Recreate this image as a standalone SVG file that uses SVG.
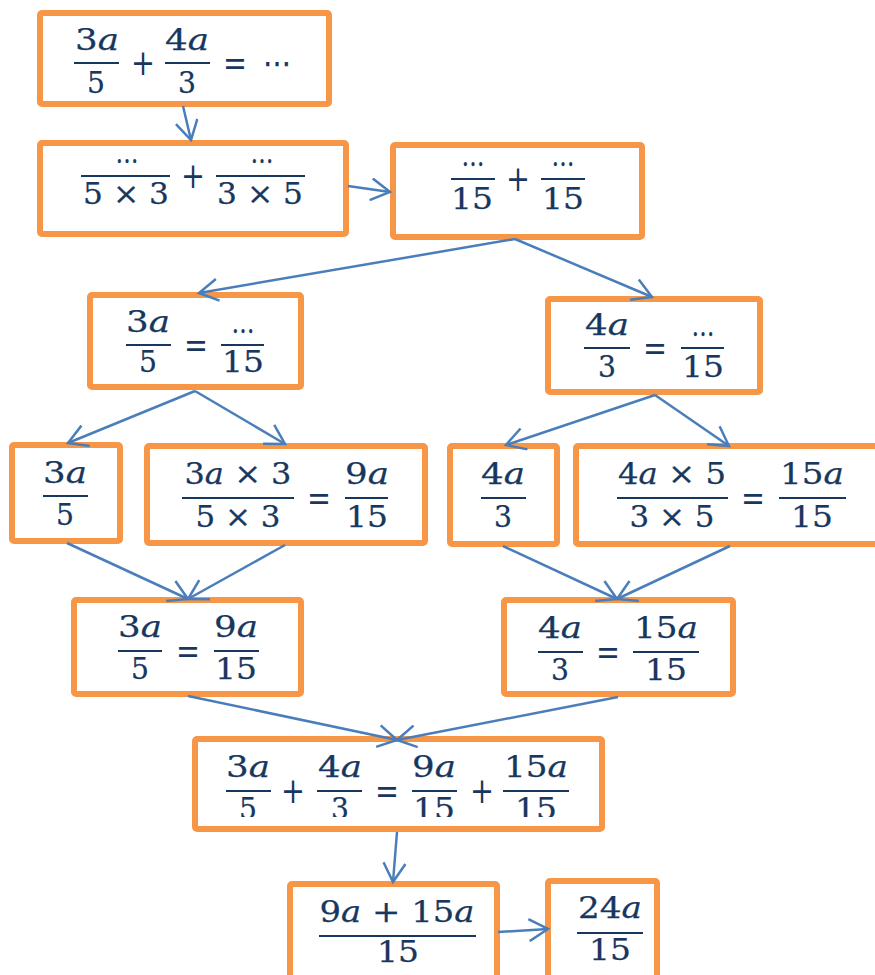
<svg xmlns="http://www.w3.org/2000/svg" width="875" height="975" viewBox="0 0 875 975">
<style>
.box{fill:#fff;stroke:#F79646;stroke-width:6}
.t{font-family:"DejaVu Serif","Liberation Serif",serif;font-size:30px;fill:#17375E;stroke:#17375E;stroke-width:0.25;text-anchor:middle}
.o{font-size:36px;stroke-width:0}
.bar{stroke:#17375E;stroke-width:2}
.c{stroke:#4A7EBB;stroke-width:2.5;fill:none;marker-end:url(#ah)}
.i{font-style:italic}
</style>
<defs>
<marker id="ah" markerUnits="userSpaceOnUse" markerWidth="24" markerHeight="24" refX="20" refY="12" orient="auto" viewBox="0 0 24 24">
<path d="M1,1 L20,12 L1,23" fill="none" stroke="#4A7EBB" stroke-width="2.5"/>
</marker>
<clipPath id="clip12"><rect x="195" y="739" width="407" height="78"/></clipPath>
</defs>
<rect width="875" height="975" fill="#fff"/>

<g id="n1">
<rect class="box" x="40" y="13" width="289" height="91" rx="2"/>
<line class="bar" x1="74" y1="63" x2="119" y2="63"/>
<text class="t" x="97" y="50" textLength="44" lengthAdjust="spacingAndGlyphs">3<tspan class="i">a</tspan></text>
<text class="t" x="96" y="93" textLength="18" lengthAdjust="spacingAndGlyphs">5</text>
<text class="t o" x="143" y="75" textLength="24" lengthAdjust="spacingAndGlyphs">+</text>
<line class="bar" x1="165" y1="63" x2="210" y2="63"/>
<text class="t" x="187" y="50" textLength="44" lengthAdjust="spacingAndGlyphs">4<tspan class="i">a</tspan></text>
<text class="t" x="187" y="93" textLength="18" lengthAdjust="spacingAndGlyphs">3</text>
<text class="t o" x="235" y="75" textLength="24" lengthAdjust="spacingAndGlyphs">=</text>
<text class="t" x="277" y="73" textLength="28" lengthAdjust="spacingAndGlyphs">⋯</text>
</g>

<g id="n2">
<rect class="box" x="40" y="143" width="306" height="91" rx="2"/>
<line class="bar" x1="81" y1="176" x2="170" y2="176"/>
<text class="t" x="127" y="163" textLength="23" lengthAdjust="spacingAndGlyphs">…</text>
<text class="t" x="126" y="204" textLength="86" lengthAdjust="spacingAndGlyphs">5 × 3</text>
<text class="t o" x="193" y="188" textLength="24" lengthAdjust="spacingAndGlyphs">+</text>
<line class="bar" x1="216" y1="176" x2="305" y2="176"/>
<text class="t" x="262" y="163" textLength="23" lengthAdjust="spacingAndGlyphs">…</text>
<text class="t" x="260" y="204" textLength="86" lengthAdjust="spacingAndGlyphs">3 × 5</text>
</g>

<g id="n3">
<rect class="box" x="393" y="145" width="249" height="92" rx="2"/>
<line class="bar" x1="451" y1="179" x2="495" y2="179"/>
<text class="t" x="473" y="166" textLength="23" lengthAdjust="spacingAndGlyphs">…</text>
<text class="t" x="472" y="209" textLength="42" lengthAdjust="spacingAndGlyphs">15</text>
<text class="t o" x="518" y="191" textLength="24" lengthAdjust="spacingAndGlyphs">+</text>
<line class="bar" x1="541" y1="179" x2="585" y2="179"/>
<text class="t" x="563" y="166" textLength="23" lengthAdjust="spacingAndGlyphs">…</text>
<text class="t" x="563" y="209" textLength="42" lengthAdjust="spacingAndGlyphs">15</text>
</g>

<g id="n4">
<rect class="box" x="90" y="295" width="211" height="92" rx="2"/>
<line class="bar" x1="126" y1="345" x2="171" y2="345"/>
<text class="t" x="148" y="332" textLength="44" lengthAdjust="spacingAndGlyphs">3<tspan class="i">a</tspan></text>
<text class="t" x="148" y="372" textLength="18" lengthAdjust="spacingAndGlyphs">5</text>
<text class="t o" x="196" y="357" textLength="24" lengthAdjust="spacingAndGlyphs">=</text>
<line class="bar" x1="221" y1="345" x2="264" y2="345"/>
<text class="t" x="243" y="333" textLength="23" lengthAdjust="spacingAndGlyphs">…</text>
<text class="t" x="243" y="372" textLength="42" lengthAdjust="spacingAndGlyphs">15</text>
</g>

<g id="n5">
<rect class="box" x="548" y="299" width="212" height="93" rx="2"/>
<line class="bar" x1="584" y1="348" x2="630" y2="348"/>
<text class="t" x="607" y="335" textLength="44" lengthAdjust="spacingAndGlyphs">4<tspan class="i">a</tspan></text>
<text class="t" x="607" y="377" textLength="18" lengthAdjust="spacingAndGlyphs">3</text>
<text class="t o" x="655" y="360" textLength="24" lengthAdjust="spacingAndGlyphs">=</text>
<line class="bar" x1="681" y1="348" x2="724" y2="348"/>
<text class="t" x="703" y="336" textLength="23" lengthAdjust="spacingAndGlyphs">…</text>
<text class="t" x="703" y="377" textLength="42" lengthAdjust="spacingAndGlyphs">15</text>
</g>

<g id="n6">
<rect class="box" x="12" y="445" width="108" height="96" rx="2"/>
<line class="bar" x1="43" y1="496" x2="88" y2="496"/>
<text class="t" x="65" y="483" textLength="44" lengthAdjust="spacingAndGlyphs">3<tspan class="i">a</tspan></text>
<text class="t" x="65" y="525" textLength="18" lengthAdjust="spacingAndGlyphs">5</text>
</g>

<g id="n7">
<rect class="box" x="147" y="446" width="278" height="97" rx="2"/>
<line class="bar" x1="182" y1="498" x2="294" y2="498"/>
<text class="t" x="238" y="484" textLength="107" lengthAdjust="spacingAndGlyphs">3<tspan class="i">a</tspan> × 3</text>
<text class="t" x="238" y="527" textLength="85" lengthAdjust="spacingAndGlyphs">5 × 3</text>
<text class="t o" x="319" y="510" textLength="24" lengthAdjust="spacingAndGlyphs">=</text>
<line class="bar" x1="345" y1="498" x2="388" y2="498"/>
<text class="t" x="367" y="484" textLength="44" lengthAdjust="spacingAndGlyphs">9<tspan class="i">a</tspan></text>
<text class="t" x="367" y="527" textLength="42" lengthAdjust="spacingAndGlyphs">15</text>
</g>

<g id="n8">
<rect class="box" x="450" y="446" width="107" height="98" rx="2"/>
<line class="bar" x1="481" y1="498" x2="526" y2="498"/>
<text class="t" x="503" y="484" textLength="44" lengthAdjust="spacingAndGlyphs">4<tspan class="i">a</tspan></text>
<text class="t" x="503" y="527" textLength="18" lengthAdjust="spacingAndGlyphs">3</text>
</g>

<g id="n9">
<rect class="box" x="576" y="446" width="310" height="98" rx="2"/>
<line class="bar" x1="617" y1="498" x2="728" y2="498"/>
<text class="t" x="672" y="484" textLength="108" lengthAdjust="spacingAndGlyphs">4<tspan class="i">a</tspan> × 5</text>
<text class="t" x="672" y="527" textLength="85" lengthAdjust="spacingAndGlyphs">3 × 5</text>
<text class="t o" x="753" y="510" textLength="24" lengthAdjust="spacingAndGlyphs">=</text>
<line class="bar" x1="779" y1="498" x2="846" y2="498"/>
<text class="t" x="812" y="484" textLength="64" lengthAdjust="spacingAndGlyphs">15<tspan class="i">a</tspan></text>
<text class="t" x="812" y="527" textLength="42" lengthAdjust="spacingAndGlyphs">15</text>
</g>

<g id="n10">
<rect class="box" x="74" y="600" width="227" height="94" rx="2"/>
<line class="bar" x1="118" y1="651" x2="162" y2="651"/>
<text class="t" x="140" y="637" textLength="44" lengthAdjust="spacingAndGlyphs">3<tspan class="i">a</tspan></text>
<text class="t" x="140" y="679" textLength="18" lengthAdjust="spacingAndGlyphs">5</text>
<text class="t o" x="188" y="663" textLength="24" lengthAdjust="spacingAndGlyphs">=</text>
<line class="bar" x1="214" y1="651" x2="259" y2="651"/>
<text class="t" x="236" y="637" textLength="44" lengthAdjust="spacingAndGlyphs">9<tspan class="i">a</tspan></text>
<text class="t" x="236" y="679" textLength="42" lengthAdjust="spacingAndGlyphs">15</text>
</g>

<g id="n11">
<rect class="box" x="504" y="600" width="229" height="94" rx="2"/>
<line class="bar" x1="538" y1="652" x2="583" y2="652"/>
<text class="t" x="560" y="638" textLength="44" lengthAdjust="spacingAndGlyphs">4<tspan class="i">a</tspan></text>
<text class="t" x="560" y="680" textLength="18" lengthAdjust="spacingAndGlyphs">3</text>
<text class="t o" x="608" y="664" textLength="24" lengthAdjust="spacingAndGlyphs">=</text>
<line class="bar" x1="633" y1="652" x2="699" y2="652"/>
<text class="t" x="666" y="638" textLength="64" lengthAdjust="spacingAndGlyphs">15<tspan class="i">a</tspan></text>
<text class="t" x="666" y="680" textLength="42" lengthAdjust="spacingAndGlyphs">15</text>
</g>

<g id="n12">
<rect class="box" x="195" y="739" width="407" height="90" rx="2"/>
<g clip-path="url(#clip12)">
<line class="bar" x1="226" y1="791" x2="271" y2="791"/>
<text class="t" x="248" y="777" textLength="44" lengthAdjust="spacingAndGlyphs">3<tspan class="i">a</tspan></text>
<text class="t" x="248" y="819" textLength="18" lengthAdjust="spacingAndGlyphs">5</text>
<text class="t o" x="293" y="803" textLength="24" lengthAdjust="spacingAndGlyphs">+</text>
<line class="bar" x1="317" y1="791" x2="362" y2="791"/>
<text class="t" x="340" y="777" textLength="44" lengthAdjust="spacingAndGlyphs">4<tspan class="i">a</tspan></text>
<text class="t" x="340" y="819" textLength="18" lengthAdjust="spacingAndGlyphs">3</text>
<text class="t o" x="387" y="803" textLength="24" lengthAdjust="spacingAndGlyphs">=</text>
<line class="bar" x1="412" y1="791" x2="457" y2="791"/>
<text class="t" x="434" y="777" textLength="44" lengthAdjust="spacingAndGlyphs">9<tspan class="i">a</tspan></text>
<text class="t" x="434" y="819" textLength="42" lengthAdjust="spacingAndGlyphs">15</text>
<text class="t o" x="482" y="803" textLength="24" lengthAdjust="spacingAndGlyphs">+</text>
<line class="bar" x1="503" y1="791" x2="569" y2="791"/>
<text class="t" x="536" y="777" textLength="64" lengthAdjust="spacingAndGlyphs">15<tspan class="i">a</tspan></text>
<text class="t" x="536" y="819" textLength="42" lengthAdjust="spacingAndGlyphs">15</text>
</g>
</g>

<g id="n13">
<rect class="box" x="290" y="884" width="207" height="130" rx="2"/>
<line class="bar" x1="319" y1="936" x2="476" y2="936"/>
<text class="t" x="397" y="922" textLength="155" lengthAdjust="spacingAndGlyphs">9<tspan class="i">a</tspan> + 15<tspan class="i">a</tspan></text>
<text class="t" x="398" y="962" textLength="42" lengthAdjust="spacingAndGlyphs">15</text>
</g>

<g id="n14">
<rect class="box" x="548" y="881" width="109" height="130" rx="2"/>
<line class="bar" x1="577" y1="933" x2="643" y2="933"/>
<text class="t" x="610" y="918" textLength="64" lengthAdjust="spacingAndGlyphs">24<tspan class="i">a</tspan></text>
<text class="t" x="610" y="960" textLength="42" lengthAdjust="spacingAndGlyphs">15</text>
</g>

<g id="connectors">
<line class="c" x1="183" y1="106" x2="191" y2="140"/>
<line class="c" x1="348" y1="186" x2="390" y2="192"/>
<line class="c" x1="515" y1="239" x2="199" y2="293"/>
<line class="c" x1="515" y1="239" x2="652" y2="297"/>
<line class="c" x1="195" y1="391" x2="68" y2="443"/>
<line class="c" x1="195" y1="391" x2="285" y2="444"/>
<line class="c" x1="655" y1="395" x2="506" y2="445"/>
<line class="c" x1="655" y1="395" x2="729" y2="446"/>
<line class="c" x1="67" y1="543" x2="188" y2="599"/>
<line class="c" x1="285" y1="545" x2="188" y2="599"/>
<line class="c" x1="503" y1="546" x2="617" y2="599"/>
<line class="c" x1="730" y1="546" x2="617" y2="599"/>
<line class="c" x1="188" y1="696" x2="397" y2="740"/>
<line class="c" x1="618" y1="697" x2="397" y2="740"/>
<line class="c" x1="397" y1="832" x2="393" y2="882"/>
<line class="c" x1="498" y1="932" x2="548" y2="929"/>
</g>
</svg>
